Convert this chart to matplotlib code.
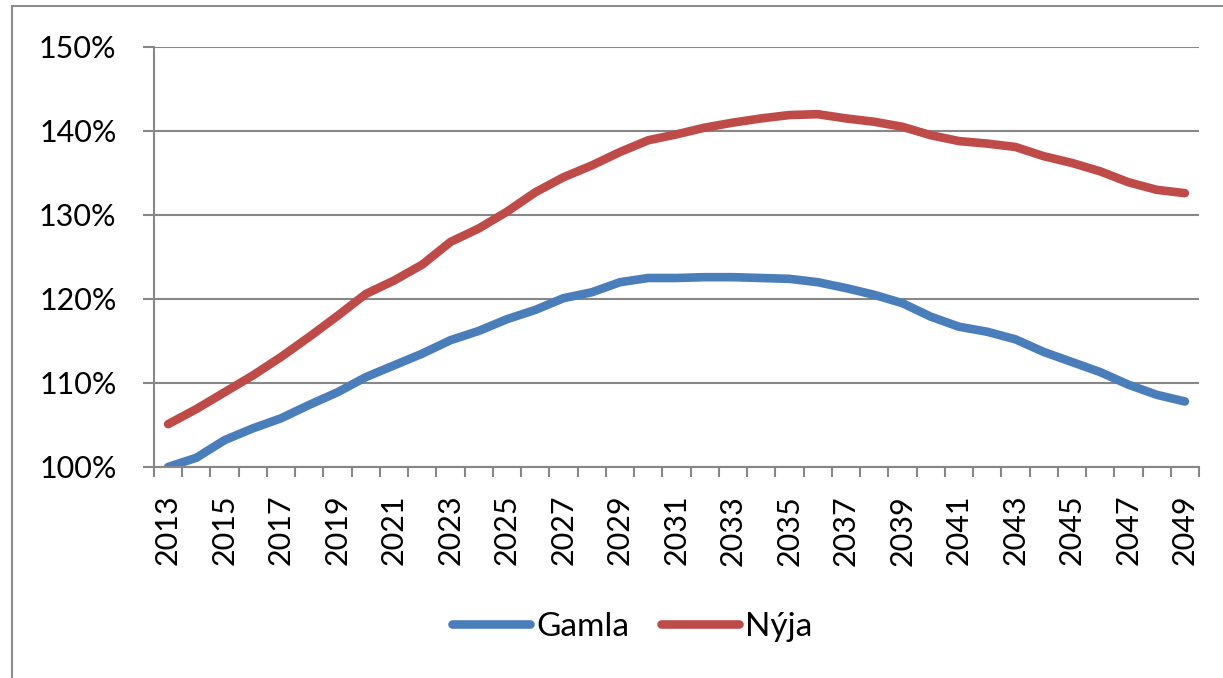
import matplotlib.pyplot as plt
from matplotlib.patches import Rectangle
from matplotlib.ticker import FuncFormatter

plt.rcParams['font.family'] = ['Lato', 'DejaVu Sans']

years = list(range(2013, 2050))
gamla = [100.0, 101.1, 103.2, 104.6, 105.8, 107.4, 108.9, 110.7, 112.1, 113.5,
         115.1, 116.2, 117.6, 118.7, 120.1, 120.8, 122.0, 122.5, 122.5, 122.6,
         122.6, 122.5, 122.4, 122.0, 121.3, 120.5, 119.5, 117.9, 116.7, 116.1,
         115.2, 113.7, 112.5, 111.3, 109.8, 108.6, 107.8]
nyja = [105.1, 106.9, 108.9, 110.9, 113.1, 115.5, 118.0, 120.6, 122.2, 124.1,
        126.8, 128.4, 130.4, 132.7, 134.5, 135.9, 137.5, 138.9, 139.6, 140.4,
        141.0, 141.5, 141.9, 142.0, 141.5, 141.1, 140.5, 139.5, 138.8, 138.5,
        138.1, 137.0, 136.2, 135.2, 133.9, 133.0, 132.6]
labels = ['Gamla', 'Nýja']
colors = ['#4A7EBB', '#BE4B48']
grid_c = '#878787'

fig = plt.figure(figsize=(12.23, 6.78), dpi=100)
ax = fig.add_axes([154 / 1223, 1 - 467 / 678, (1199 - 154) / 1223, 420 / 678])

for vals, c, lab in zip([gamla, nyja], colors, labels):
    ax.plot(years, vals, color=c, lw=6.2, solid_capstyle='round',
            solid_joinstyle='round', label=lab)

ax.set_xlim(2012.5, 2049.5)
ax.set_ylim(100, 150)
ax.set_yticks(range(100, 151, 10))
ax.yaxis.set_major_formatter(FuncFormatter(lambda v, p: f'{v:.0f}%'))
ax.grid(axis='y', color=grid_c, lw=1.5)
ax.set_axisbelow(True)

ax.set_xticks(years[::2])
ax.set_xticks([y - 0.5 for y in years] + [2049.5], minor=True)
ax.tick_params(axis='x', which='major', length=0, pad=20, labelsize=22, rotation=90)
ax.tick_params(axis='x', which='minor', length=7.5, width=1.5, color=grid_c)
ax.tick_params(axis='y', length=8, width=1.5, color=grid_c, pad=19, labelsize=22)

for s in ['top', 'right']:
    ax.spines[s].set_visible(False)
for s in ['left', 'bottom']:
    ax.spines[s].set_color(grid_c)
    ax.spines[s].set_linewidth(1.5)

fig.legend(loc='center', bbox_to_anchor=(0.517, 0.075), ncol=2, frameon=False,
           fontsize=24, handlelength=2.35, handletextpad=0.18, columnspacing=0.95)

# outer chart border (only the left and top edges show in the crop)
fig.patches.append(Rectangle((12 / 1223, -0.1), 1.2, 1 - 6 / 678 + 0.1,
                             transform=fig.transFigure, fill=False,
                             edgecolor='#8c8c8c', lw=1.5))

fig.savefig('out.png', dpi=100)
